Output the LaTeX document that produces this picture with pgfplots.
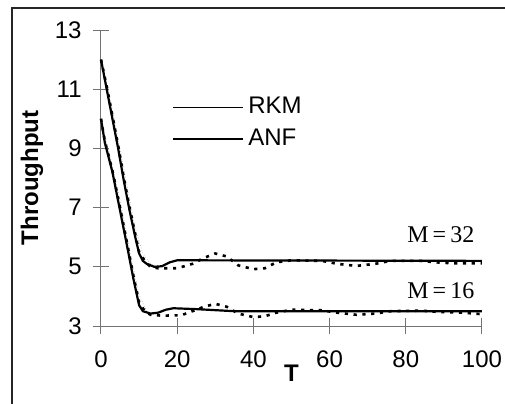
\documentclass[border=0pt]{standalone}
\usepackage{fontspec}
\setmainfont{Liberation Sans}
\newfontfamily\seriffont{Liberation Serif}
\usepackage{pgfplots}
\pgfplotsset{compat=1.18}
\begin{document}
\fontsize{12}{14}\selectfont
\begin{tikzpicture}[x=1pt,y=1pt]
\useasboundingbox (-50.5,-38.5) rectangle (202,163);
\clip (-50.5,-38.5) rectangle (202,163);
\draw[line width=0.6pt, black!85] (-44.5,-60) rectangle (215,159);
\begin{axis}[
  at={(0,0)}, anchor=south west,
  scale only axis, width=190.5pt, height=148pt,
  xmin=0, xmax=100, ymin=3, ymax=13,
  xtick={0,20,40,60,80,100}, ytick={3,5,7,9,11,13},
  axis x line*=bottom, axis y line*=left,
  axis line style={draw=gray!90!black, line width=0.5pt, -},
  every tick/.style={draw=gray!90!black, line width=0.5pt},
  tick align=center, major tick length=8pt,
  /pgf/number format/assume math mode=true,
  tick label style={font=\fontsize{12}{14}\selectfont, black},
  yticklabel style={xshift=-1.5pt},
  xticklabel style={yshift=-4pt},
  xlabel={\textbf{T}}, ylabel={\textbf{Throughput}},
  xlabel style={at={(axis description cs:0.5,-0.159)}, anchor=center, font=\fontsize{12}{14}\selectfont},
  ylabel style={at={(axis description cs:-0.181,0.5)}, anchor=center, font=\fontsize{12}{14}\selectfont},
  legend style={draw=none, fill=none, at={(axis description cs:0,0)}, anchor=north west,
     xshift=35.5pt, yshift=116.5pt, inner sep=0pt, row sep=1.5pt,
     font=\fontsize{12}{14}\selectfont},
  legend cell align=left,
  legend image code/.code={\draw[#1] (0pt,0pt) -- (35pt,0pt);},
  clip=false,
]
% thin gray companion curves
\addplot[gray!70, line width=0.3pt, densely dotted, forget plot] coordinates {
(0,12) (1.5,11.2) (3,10.3) (6,8.3) (9,6.3) (11,5.45) (13,5.1) (16,5.0)};
\addplot[gray!70, line width=0.3pt, densely dotted, forget plot] coordinates {
(0,10) (2,8.95) (5,7.25) (8,5.25) (10,4.05) (12,3.5) (14,3.4)};
% dashed curves
\addplot[black, line width=1.3pt, dash pattern=on 1.6pt off 2.8pt, forget plot] coordinates {
(0,12) (1.5,11.1) (3,10.1) (4.5,9.1) (6,8) (7.5,7) (9,6.1) (10,5.5) (11.5,5.2) (13,5.0)
(15,4.95) (20,4.95) (24,5.1) (27,5.3) (30,5.45) (33,5.35) (36,5.05) (40,4.92) (43,4.95)
(46,5.15) (50,5.22) (58,5.2) (62,5.1) (67,5.03) (72,5.1) (76,5.2) (84,5.2) (88,5.15)
(92,5.12) (100,5.12)};
\addplot[black, line width=1.3pt, dash pattern=on 1.6pt off 2.8pt, forget plot] coordinates {
(0,10) (1,9.25) (3,8.25) (5,7) (7,5.7) (8.5,4.7) (10,3.8) (11.5,3.5) (13,3.38) (16,3.35)
(21,3.36) (24,3.5) (27,3.65) (30,3.75) (33,3.65) (36,3.42) (40,3.3) (43,3.33) (46,3.45)
(50,3.55) (58,3.53) (62,3.45) (67,3.38) (72,3.42) (76,3.5) (84,3.52) (88,3.48) (95,3.45)
(100,3.4)};
% solid curves
\addplot[black, line width=1.1pt, forget plot] coordinates {
(0,12) (1.5,11) (3,10) (4.5,9) (6,7.9) (7.5,6.9) (9,6) (10,5.45) (11,5.2) (12,5.1)
(14,5.0) (16,5.02) (18,5.15) (20,5.22) (100,5.2)};
\addplot[black, line width=1.1pt, forget plot] coordinates {
(0,10) (1,9.2) (3,8.2) (5,6.9) (7,5.6) (8.5,4.6) (10,3.7) (11,3.5) (13,3.42) (15,3.45)
(17,3.55) (19,3.6) (25,3.57) (35,3.5) (100,3.5)};
\addlegendimage{black, line width=0.8pt}
\addlegendentry{RKM}
\addlegendimage{black, line width=1pt}
\addlegendentry{ANF}
\node[font=\seriffont\fontsize{12}{14}\selectfont] at (axis cs:89.2,6.07) {M\,=\,32};
\node[font=\seriffont\fontsize{12}{14}\selectfont] at (axis cs:89.2,4.18) {M\,=\,16};
\end{axis}
\end{tikzpicture}
\end{document}
